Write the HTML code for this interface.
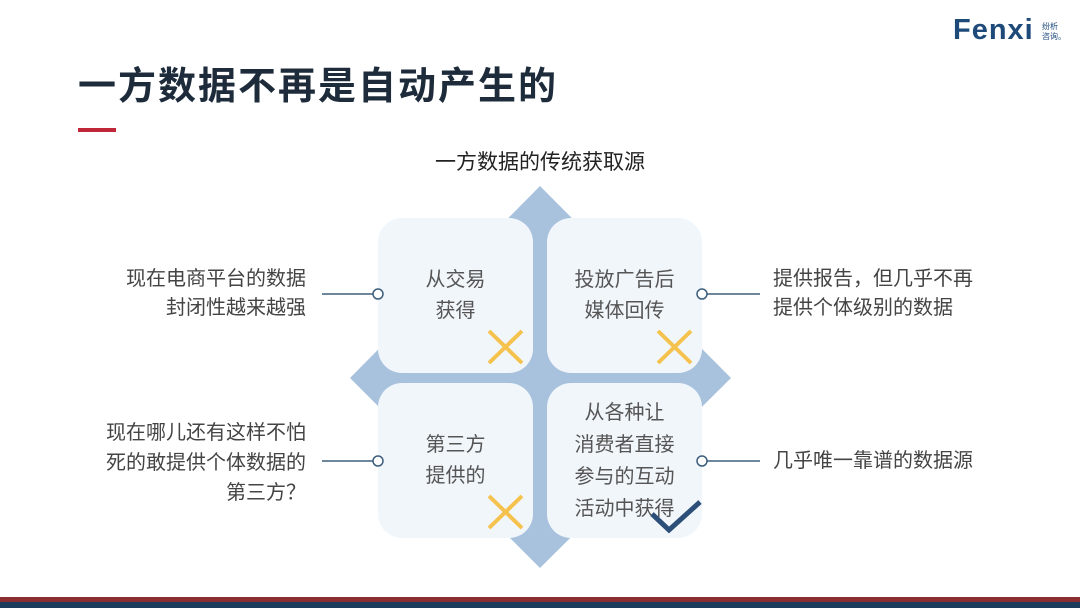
<!DOCTYPE html>
<html><head><meta charset="utf-8"><style>
body{margin:0;width:1080px;height:608px;overflow:hidden;background:#fff;position:relative;font-family:"Liberation Sans","Noto Sans CJK SC",sans-serif;}
.a{position:absolute}
.box{position:absolute;background:#f1f6fb;border-radius:24px;width:155px;height:155px;display:flex;align-items:center;justify-content:center;text-align:center;color:#555;font-size:20px;line-height:31px;}
.t{position:absolute;font-size:20px;color:#444;line-height:28px}
</style></head><body>
<div class="a" style="left:78px;top:55px;font-size:38px;font-weight:bold;color:#1d2b3a;letter-spacing:2px">一方数据不再是自动产生的</div>
<div class="a" style="left:78px;top:128px;width:38px;height:4px;background:#c0283a"></div>
<div class="a" style="left:953px;top:14px;font-size:29px;font-weight:bold;color:#1e4a7a;letter-spacing:1px">Fenxi</div>
<div class="a" style="left:1042px;top:22px;font-size:8px;line-height:10px;color:#1e4a7a">纷析<br>咨询。</div>
<div class="a" style="left:0;width:1080px;top:146px;text-align:center;font-size:21px;color:#222">一方数据的传统获取源</div>
<svg class="a" style="left:0;top:0" width="1080" height="608">
<polygon points="540,186 731,378 540,568 350,378" fill="#a8c1dd"/>
<g stroke="#3e5e7e" stroke-width="1.5" fill="#fff">
<line x1="322" y1="294" x2="373" y2="294"/><line x1="322" y1="461" x2="373" y2="461"/>
<line x1="707" y1="294" x2="760" y2="294"/><line x1="707" y1="461" x2="760" y2="461"/>
</g>
</svg>
<div class="box" style="left:378px;top:218px">从交易<br>获得</div>
<div class="box" style="left:547px;top:218px">投放广告后<br>媒体回传</div>
<div class="box" style="left:378px;top:383px">第三方<br>提供的</div>
<div class="box" style="left:547px;top:383px;line-height:32px">从各种让<br>消费者直接<br>参与的互动<br>活动中获得</div>
<svg class="a" style="left:0;top:0" width="1080" height="608">
<g stroke="#f5c24d" stroke-width="4">
<line x1="489" y1="331" x2="522" y2="363"/><line x1="522" y1="331" x2="489" y2="363"/>
<line x1="658" y1="331" x2="691" y2="363"/><line x1="691" y1="331" x2="658" y2="363"/>
<line x1="489" y1="496" x2="522" y2="528"/><line x1="522" y1="496" x2="489" y2="528"/>
</g>
<polyline points="652,514 669,530 700,502" fill="none" stroke="#2b4f78" stroke-width="5"/>
<g stroke="#3e5e7e" stroke-width="1.5" fill="#fff">
<circle cx="378" cy="294" r="5"/><circle cx="378" cy="461" r="5"/>
<circle cx="702" cy="294" r="5"/><circle cx="702" cy="461" r="5"/>
</g>
</svg>
<div class="t" style="right:774px;top:265px;text-align:right;line-height:29px">现在电商平台的数据<br>封闭性越来越强</div>
<div class="t" style="right:774px;top:418px;text-align:right;line-height:30px">现在哪儿还有这样不怕<br>死的敢提供个体数据的<br>第三方？</div>
<div class="t" style="left:773px;top:265px;line-height:29px">提供报告，但几乎不再<br>提供个体级别的数据</div>
<div class="t" style="left:773px;top:447px">几乎唯一靠谱的数据源</div>
<div class="a" style="left:0;top:597px;width:1080px;height:5px;background:#8a2e32"></div>
<div class="a" style="left:0;top:602px;width:1080px;height:6px;background:#1c3c5e"></div>
</body></html>
